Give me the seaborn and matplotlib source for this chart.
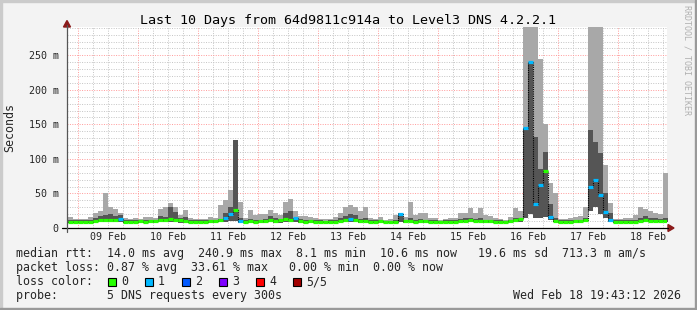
import numpy as np
import pandas as pd
import matplotlib
matplotlib.use("Agg")
import matplotlib.pyplot as plt
import matplotlib.dates as mdates
from matplotlib.ticker import MultipleLocator, FuncFormatter, NullFormatter
from matplotlib.patches import Rectangle, Polygon
from matplotlib.lines import Line2D
import seaborn as sns

sns.set_style("white")
plt.rcParams["font.family"] = ["DejaVu Sans Mono"]

# ---------------- data ----------------
title = "Last 10 Days from 64d9811c914a to Level3 DNS 4.2.2.1"
start = "2026-02-08 20:00"
view_start = "2026-02-08 19:43:12"
view_end = "2026-02-18 19:43:12"

# light smoke top (max ping), ms
hi = [16, 13, 13, 13, 16, 22, 24, 50, 31, 28, 22, 14,
      13, 14, 13, 16, 16, 15, 28, 30, 36, 31, 19, 26,
      15, 13, 13, 13, 16, 15, 33, 40, 55, 60, 38, 15,
      26, 19, 20, 20, 26, 22, 19, 38, 42, 25, 18, 17,
      16, 15, 13, 13, 13, 16, 22, 30, 33, 31, 24, 31,
      14, 13, 16, 12, 13, 19, 19, 16, 38, 19, 21, 22,
      14, 14, 12, 13, 14, 15, 21, 22, 29, 21, 29, 19,
      18, 14, 13, 12, 16, 29, 25, 300, 300, 300, 245, 150,
      65, 50, 13, 13, 15, 16, 18, 31, 300, 300, 300, 91,
      36, 13, 13, 14, 15, 19, 30, 28, 25, 22, 20, 79]
# dark smoke top, ms
hi2 = [12, 11, 11, 11, 12, 14, 18, 19, 20, 17, 19, 12,
       11, 11, 11, 12, 12, 12, 18, 16, 30, 23, 14, 16,
       11, 11, 11, 11, 12, 11, 13, 22, 30, 127, 15, 12,
       13, 12, 12, 13, 17, 14, 13, 22, 25, 15, 13, 12,
       12, 11, 11, 10, 11, 12, 14, 17, 20, 19, 13, 14,
       11, 11, 11, 10, 10, 12, 22, 12, 14, 12, 13, 12,
       11, 11, 10, 11, 11, 11, 13, 14, 15, 13, 14, 12,
       12, 11, 11, 10, 12, 15, 14, 145, 241, 132, 85, 110,
       35, 15, 11, 11, 11, 12, 12, 14, 142, 125, 108, 51,
       22, 11, 11, 11, 11, 12, 14, 18, 15, 14, 13, 15]
# smoke bottom (min ping), ms
lo = [7, 7, 7, 7, 7, 7, 8, 8, 8, 8, 8, 7,
      7, 7, 7, 7, 7, 7, 8, 8, 8, 8, 7, 7,
      7, 7, 7, 7, 7, 7, 8, 9, 10, 10, 7, 7,
      8, 7, 7, 7, 8, 7, 7, 8, 8, 8, 7, 7,
      7, 7, 7, 7, 7, 7, 8, 8, 8, 8, 7, 8,
      7, 7, 7, 7, 7, 7, 8, 7, 8, 7, 7, 7,
      7, 7, 7, 7, 7, 7, 8, 8, 8, 8, 8, 7,
      7, 7, 7, 7, 7, 8, 8, 15, 20, 14, 15, 16,
      12, 8, 7, 7, 7, 7, 7, 8, 25, 30, 20, 15,
      9, 7, 7, 7, 7, 7, 8, 8, 8, 8, 8, 8]
# median rtt, ms
med = [9, 9, 8.1, 9, 9, 10, 11, 12, 11, 12, 13, 9,
       9, 9, 10, 9, 10, 10, 11, 12, 13, 12, 11, 10,
       9, 9, 8.1, 9, 10, 10, 11, 15, 20, 26, 10, 9,
       10, 9, 10, 10, 11, 10, 11, 13, 12, 14, 10, 9,
       10, 9, 9, 8.1, 9, 9, 10, 11, 13, 12, 10, 10,
       9, 9, 10, 9, 8.1, 9, 20, 10, 10, 9, 10, 10,
       9, 9, 8.1, 9, 9, 9, 10, 10, 11, 10, 10, 10,
       10, 9, 9, 9, 10, 11, 13, 145, 240.9, 35, 62, 82,
       16, 10, 9, 9, 9, 10, 10, 11, 60, 70, 48, 23,
       12, 9, 8.1, 9, 9, 9, 10, 11, 10, 10, 10, 10.6]
# loss class per bin (index into loss colours)
loss = [0, 0, 0, 0, 0, 0, 0, 0, 0, 0, 1, 0,
        0, 0, 0, 0, 0, 0, 0, 0, 0, 0, 0, 0,
        0, 0, 0, 0, 0, 0, 0, 1, 1, 0, 1, 0,
        0, 0, 0, 0, 0, 0, 0, 0, 0, 1, 0, 0,
        0, 0, 0, 0, 0, 0, 0, 0, 1, 0, 0, 0,
        0, 0, 0, 0, 0, 0, 1, 0, 0, 0, 0, 0,
        0, 0, 0, 0, 0, 0, 0, 0, 0, 0, 0, 0,
        0, 0, 0, 0, 0, 0, 0, 1, 1, 1, 1, 0,
        1, 0, 0, 0, 0, 0, 0, 0, 1, 1, 1, 1,
        1, 0, 0, 0, 0, 0, 0, 0, 0, 0, 0, 0]

loss_labels = ["0", "1", "2", "3", "4", "5/5"]
loss_colors = ["#26ff00", "#00b8ff", "#0059ff", "#7e00ff", "#ff0000", "#a10000"]

legend_lines = [
    "median rtt:  14.0 ms avg  240.9 ms max  8.1 ms min  10.6 ms now   19.6 ms sd  713.3 m am/s",
    "packet loss: 0.87 % avg  33.61 % max   0.00 % min  0.00 % now",
    "loss color:",
    "probe:       5 DNS requests every 300s",
]
stamp = "Wed Feb 18 19:43:12 2026"
watermark = "RRDTOOL / TOBI OETIKER"

# ---------------- figure ----------------
W, H = 697, 310
fig = plt.figure(figsize=(W / 100, H / 100), dpi=100, facecolor="#f3f3f3")

def px(x, y):
    return (x / W, 1 - y / H)

L, R, T, B = 67, 667, 27, 228
ax = fig.add_axes([L / W, 1 - B / H, (R - L) / W, (B - T) / H])
ax.set_facecolor("white")

n = len(med)
edges = mdates.date2num(pd.date_range(start, periods=n + 1, freq="2h").to_pydatetime())
xs = edges[:-1]

def stepv(a):
    a = np.asarray(a, dtype=float)
    return np.append(a, a[-1])

ax.fill_between(edges, stepv(lo), stepv(hi), step="post", color="#a8a8a8", lw=0, zorder=2)
ax.fill_between(edges, stepv(lo), stepv(hi2), step="post", color="#555555", lw=0, zorder=3)

df = pd.DataFrame({"t": xs, "median": med})
sns.lineplot(data=df, x="t", y="median", drawstyle="steps-post", color="black",
             lw=0.8, linestyle=(0, (1, 1)), ax=ax, zorder=4, legend=False)
ax.hlines(med, edges[:-1], edges[1:], colors=[loss_colors[k] for k in loss],
          lw=2.3, zorder=5, capstyle="butt")

ax.set_xlim(mdates.date2num(pd.Timestamp(view_start).to_pydatetime()),
            mdates.date2num(pd.Timestamp(view_end).to_pydatetime()))
ax.set_ylim(0, 291)
ax.set_xlabel("")
ax.set_ylabel("")

ax.xaxis.set_major_locator(mdates.DayLocator())
ax.xaxis.set_major_formatter(NullFormatter())
ax.xaxis.set_minor_locator(mdates.HourLocator(byhour=[6, 12, 18]))

def xfmt(v, p):
    d = mdates.num2date(v)
    return d.strftime("%d %b") if d.hour == 12 else ""

ax.xaxis.set_minor_formatter(FuncFormatter(xfmt))
ax.yaxis.set_major_locator(MultipleLocator(50))
ax.yaxis.set_minor_locator(MultipleLocator(10))
ax.yaxis.set_major_formatter(FuncFormatter(lambda v, p: "0" if v == 0 else f"{int(v)} m"))

ax.grid(which="major", color="#ff9a9a", ls=(0, (1, 1.5)), lw=0.7, zorder=1)
ax.grid(which="minor", color="#c4c4c4", ls=(0, (1, 1.5)), lw=0.7, zorder=1)
ax.set_axisbelow(True)
ax.tick_params(axis="x", which="both", length=0, labelsize=7.2, pad=3.2)
ax.tick_params(axis="y", which="major", length=0, labelsize=7.2, pad=6)
ax.tick_params(axis="y", which="minor", length=0)
for s in ax.spines.values():
    s.set_visible(False)

# axis lines + arrows
fig.add_artist(Line2D([px(62, 0)[0], px(668, 0)[0]], [px(0, 228)[1]] * 2, color="black", lw=0.9))
fig.add_artist(Line2D([px(67, 0)[0]] * 2, [px(0, 232)[1], px(0, 25)[1]], color="#555555", lw=0.9))
fig.add_artist(Polygon([px(668, 224.5), px(668, 231.5), px(674, 228)], closed=True,
                       color="#8b1a1a", transform=fig.transFigure))
fig.add_artist(Polygon([px(63.5, 27), px(70.5, 27), px(67, 20.5)], closed=True,
                       color="#8b1a1a", transform=fig.transFigure))

# frame
fig.add_artist(Rectangle(px(0, 2), 1, 2 / H, color="#cbcbcb", transform=fig.transFigure))
fig.add_artist(Rectangle(px(0, 310), 2 / W, 1, color="#cbcbcb", transform=fig.transFigure))
fig.add_artist(Rectangle(px(0, 310), 1, 2 / H, color="#999999", transform=fig.transFigure))
fig.add_artist(Rectangle(px(695, 310), 2 / W, 1, color="#999999", transform=fig.transFigure))

# texts
fig.text(*px(348, 24), title, ha="center", va="baseline", fontsize=9.6, color="black")
fig.text(*px(10, 127), "Seconds", rotation=90, ha="center", va="center", fontsize=8.4)
fig.text(*px(687, 60), watermark, rotation=270, ha="center", va="center",
         fontsize=6, color="#b0b0b0")

base_y = [257.3, 271.3, 285.3, 299.3]
for txt, yb in zip(legend_lines, base_y):
    fig.text(*px(16, yb), txt, ha="left", va="baseline", fontsize=8.37)

for k, (lab, col) in enumerate(zip(loss_labels, loss_colors)):
    x0 = 108 + 37 * k
    fig.add_artist(Rectangle(px(x0, 286), 8 / W, 8 / H, facecolor=col, edgecolor="black",
                             lw=0.8, transform=fig.transFigure))
    fig.text(*px(x0 + 13, 285.3), lab, ha="left", va="baseline", fontsize=8.37)

fig.text(*px(681, 299.3), stamp, ha="right", va="baseline", fontsize=8.37)

fig.savefig("out.png", dpi=100, facecolor=fig.get_facecolor())
